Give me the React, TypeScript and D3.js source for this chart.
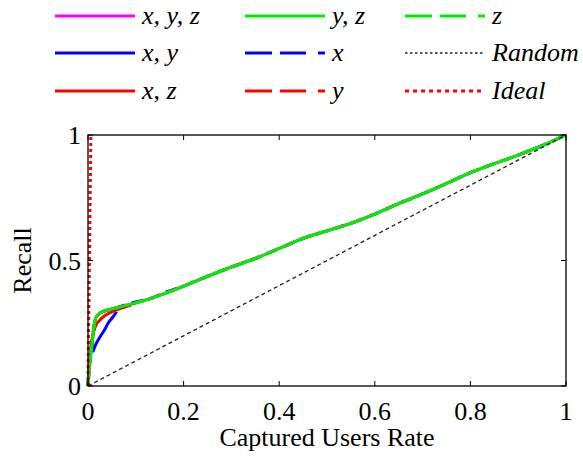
import React from "react";
import * as d3 from "d3";

// ---- data ----
const rateMain = [0, 0.003, 0.008, 0.012, 0.016, 0.025, 0.04, 0.06, 0.09, 0.13, 0.16, 0.2, 0.25, 0.3, 0.35, 0.4, 0.45, 0.5, 0.55, 0.6, 0.65, 0.7, 0.75, 0.8, 0.85, 0.9, 0.95, 1];
const recallYZ = [0, 0.08, 0.16, 0.23, 0.27, 0.29, 0.302, 0.312, 0.326, 0.348, 0.368, 0.398, 0.437, 0.474, 0.508, 0.548, 0.588, 0.618, 0.648, 0.685, 0.727, 0.765, 0.807, 0.85, 0.886, 0.92, 0.958, 1];
const recallXYZ = recallYZ;
const recallX = [0, 0.08, 0.16, 0.23, 0.27, 0.29, 0.302, 0.312, 0.33, 0.348, 0.372, 0.398, 0.437, 0.474, 0.508, 0.548, 0.588, 0.618, 0.648, 0.685, 0.727, 0.765, 0.807, 0.85, 0.886, 0.92, 0.958, 1];
const recallY = recallYZ;
const recallZ = recallYZ;

const rateXY = [0.01, 0.015, 0.025, 0.035, 0.042, 0.05, 0.06];
const recallXY = [0.135, 0.16, 0.195, 0.225, 0.25, 0.27, 0.295];

const rateXZ = [0, 0.003, 0.006, 0.01, 0.015, 0.025, 0.035, 0.05, 0.07, 0.09];
const recallXZ = [0, 0.1, 0.16, 0.2, 0.235, 0.263, 0.28, 0.295, 0.31, 0.322];

const rateRandom = [0, 1];
const recallRandom = [0, 1];
const rateIdeal = [0, 0.006];
const recallIdeal = [0, 1];

const xTicks = [0, 0.2, 0.4, 0.6, 0.8, 1];
const yTicks = [0, 0.5, 1];
const xTickLabels = ["0", "0.2", "0.4", "0.6", "0.8", "1"];
const yTickLabels = ["0", "0.5", "1"];

const legendLabels = ["x, y, z", "x, y", "x, z", "y, z", "x", "y", "z", "Random", "Ideal"];

// ---- layout ----
const W = 583, H = 457;
const L = 88, R = 566, T = 135, B = 386;
const FONT = "Liberation Serif, Times New Roman, Times, DejaVu Serif, serif";

type S = { xs: number[]; ys: number[]; color: string; width: number; dash?: string; legendDash?: string; label: string };

export default function App() {
  const x = d3.scaleLinear().domain([0, 1]).range([L, R]);
  const y = d3.scaleLinear().domain([0, 1]).range([B, T]);
  const line = (xs: number[], ys: number[]) =>
    d3
      .line<number>()
      .x((_, i) => x(xs[i]))
      .y((_, i) => y(ys[i]))
      .curve(d3.curveMonotoneX)(xs.map((v) => v)) || "";

  const dashPat = "27 8 26 12 7 8";
  const series: Record<string, S> = {
    xyz: { xs: rateMain, ys: recallXYZ, color: "#ff00ff", width: 3, label: legendLabels[0] },
    xy: { xs: rateXY, ys: recallXY, color: "#0000ff", width: 3, label: legendLabels[1] },
    xz: { xs: rateXZ, ys: recallXZ, color: "#ff0000", width: 3, label: legendLabels[2] },
    yz: { xs: rateMain, ys: recallYZ, color: "#00ee00", width: 3, label: legendLabels[3] },
    x: { xs: rateMain, ys: recallX, color: "#0000ff", width: 3, dash: "12 6", legendDash: dashPat, label: legendLabels[4] },
    y: { xs: rateMain, ys: recallY, color: "#ff0000", width: 3, dash: "12 6", legendDash: dashPat, label: legendLabels[5] },
    z: { xs: rateMain, ys: recallZ, color: "#00ee00", width: 3, dash: "12 6 4 6", legendDash: dashPat, label: legendLabels[6] },
    random: { xs: rateRandom, ys: recallRandom, color: "#222", width: 1.3, dash: "4 3", legendDash: "2.5 2.5", label: legendLabels[7] },
    ideal: { xs: rateIdeal, ys: recallIdeal, color: "#ff0000", width: 3, dash: "3 3", legendDash: "4 4", label: legendLabels[8] },
  };
  const drawOrder = ["x", "y", "xyz", "xy", "xz", "yz", "z", "random", "ideal"];
  const legendGrid = [
    ["xyz", "xy", "xz"],
    ["yz", "x", "y"],
    ["z", "random", "ideal"],
  ];
  const colX = [55, 245, 405];
  const rowY = [16, 53, 91];
  const lineLen = 80;

  return (
    <svg width={W} height={H} style={{ display: "block", position: "absolute", left: 0, top: 0, background: "#fff", fontFamily: FONT }}>
      {/* legend */}
      {legendGrid.map((col, ci) =>
        col.map((key, ri) => {
          const s = series[key];
          return (
            <g key={key}>
              <line x1={colX[ci]} x2={colX[ci] + lineLen} y1={rowY[ri]} y2={rowY[ri]} stroke={s.color} strokeWidth={key === "random" ? 1.3 : 3} strokeDasharray={s.legendDash ?? s.dash} />
              <text x={colX[ci] + lineLen + 7} y={rowY[ri] + 8} style={{ fontFamily: FONT, fontStyle: "italic" }} fontSize={26} fill="#000">{s.label}</text>
            </g>
          );
        })
      )}
      {/* series */}
      <g fill="none" strokeLinejoin="round">
        {drawOrder.map((k) => {
          const s = series[k];
          return <path key={k} d={line(s.xs, s.ys)} stroke={s.color} strokeWidth={s.width} strokeDasharray={s.dash} />;
        })}
      </g>
      {/* axes box */}
      <rect x={L} y={T} width={R - L} height={B - T} fill="none" stroke="#000" strokeWidth={1.3} />
      {xTicks.map((t, i) => (
        <g key={"xt" + i}>
          <line x1={x(t)} x2={x(t)} y1={B} y2={B - 5} stroke="#000" strokeWidth={1} />
          <line x1={x(t)} x2={x(t)} y1={T} y2={T + 5} stroke="#000" strokeWidth={1} />
          <text x={x(t)} y={420} textAnchor="middle" style={{ fontFamily: FONT }} fontSize={26} fill="#000">{xTickLabels[i]}</text>
        </g>
      ))}
      {yTicks.map((t, i) => (
        <g key={"yt" + i}>
          <line x1={L} x2={L + 5} y1={y(t)} y2={y(t)} stroke="#000" strokeWidth={1} />
          <line x1={R} x2={R - 5} y1={y(t)} y2={y(t)} stroke="#000" strokeWidth={1} />
          <text x={L - 7} y={y(t) + 9} textAnchor="end" style={{ fontFamily: FONT }} fontSize={26} fill="#000">{yTickLabels[i]}</text>
        </g>
      ))}
      <text x={(L + R) / 2} y={446} textAnchor="middle" style={{ fontFamily: FONT }} fontSize={26} fill="#000">Captured Users Rate</text>
      <text transform={`translate(31, ${(T + B) / 2}) rotate(-90)`} textAnchor="middle" style={{ fontFamily: FONT }} fontSize={26} fill="#000">Recall</text>
    </svg>
  );
}
